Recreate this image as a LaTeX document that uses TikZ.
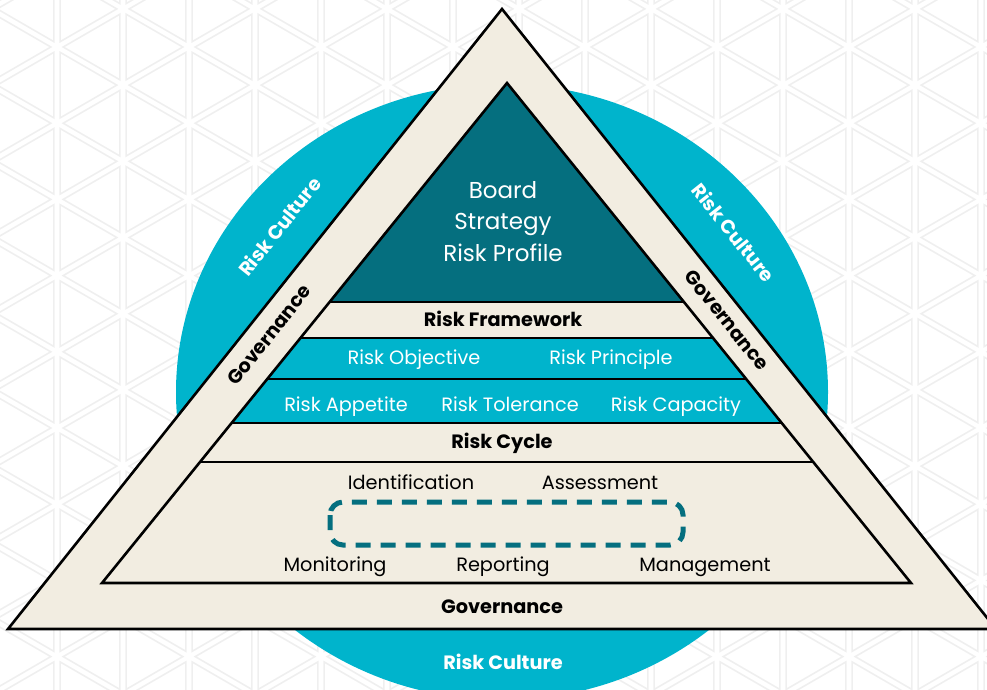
\documentclass[tikz,border=0pt]{standalone}
\usepackage{fontspec}
\setmainfont{Poppins}
\usetikzlibrary{calc}
\definecolor{beige}{HTML}{F2EDE1}
\definecolor{culture}{HTML}{00B4CC}
\definecolor{boardteal}{HTML}{056F7F}
\definecolor{lattice}{HTML}{EFEFEF}

\begin{document}
\begin{tikzpicture}[x=1pt,y=-1pt,
	  tile/.style={draw=lattice, line width=1.6pt},
	  band/.style={draw=black, line width=2.6pt},
	  lbl/.style={inner sep=0pt, text height=13.5pt, text depth=0pt,
	    font=\fontsize{19.3}{22}\selectfont},
	  white lbl/.style={lbl, text=white},
	  bold lbl/.style={lbl, font=\fontsize{19.3}{22}\selectfont\bfseries},
	  culture lbl/.style={bold lbl, text=white},
	  board lbl/.style={white lbl, text height=16pt, font=\fontsize{23}{26}\selectfont},
	  dashloop/.style={draw=boardteal, line width=5pt,
	    dash pattern=on 15pt off 10pt, rounded corners=13pt}]
	  \useasboundingbox (0,0) rectangle (987,689);
	  \clip (0,0) rectangle (987,689);
	  % background lattice
	  \foreach \k in {-1,...,15} {
	    \foreach \m in {-1,...,9} {
	      \pgfmathsetmacro{\xa}{57+66*\k}
	      \pgfmathsetmacro{\ya}{47+76.2*\m-38.1*mod(abs(\k),2)}
	      \pgfmathsetmacro{\yb}{47+76.2*\m-38.1*mod(abs(\k+1),2)}
	      \draw[tile] (\xa+22,\ya+38.1) ++(-18.9,-32.8) -- ++(0,65.6) -- ++(56.7,-32.8) -- cycle;
	      \draw[tile] (\xa+44,\yb+38.1) ++(18.9,-32.8) -- ++(0,65.6) -- ++(-56.7,-32.8) -- cycle;
	    }
	  }
	  % risk culture
	  \fill[culture] (502,392) ellipse [x radius=326pt, y radius=308pt];
	  % governance triangle
	  \coordinate (top) at (502,9);
	  \coordinate (left) at (8,629);
	  \coordinate (right) at (996,629);
	  \filldraw[band, fill=beige] (top) -- (left) -- (right) -- cycle;
	  % inner pyramid
	  \coordinate (apex) at (507,83);
	  \coordinate (bl) at (102,583);
	  \coordinate (br) at (911,583);
	  \foreach \t [count=\i] in {0.438,0.51,0.592,0.68,0.758} {
	    \coordinate (l\i) at ($(apex)!\t!(bl)$);
	    \coordinate (r\i) at ($(apex)!\t!(br)$);
	  }
	  \fill[boardteal] (apex) -- (l1) -- (r1) -- cycle;
	  \fill[culture] (l2) -- (l4) -- (r4) -- (r2) -- cycle;
	  \draw[band] (apex) -- (bl) -- (br) -- cycle;
	  \foreach \i in {1,...,5}
	    \draw[band] (l\i) -- (r\i);
	  \draw[dashloop] (330,502) rectangle (683,545);
	  % labels
	  \node[board lbl] (board) at (503,190) {Board};
	  \node[board lbl] (strategy) at (503,221) {Strategy};
	  \node[board lbl] (profile) at (503,253) {Risk Profile};
	  \node[bold lbl] (framework) at (503,320) {Risk Framework};
	  \node[white lbl] (objective) at (414,358) {Risk Objective};
	  \node[white lbl] (principle) at (611,358) {Risk Principle};
	  \node[white lbl] (appetite) at (346,405) {Risk Appetite};
	  \node[white lbl] (tolerance) at (510,405) {Risk Tolerance};
	  \node[white lbl] (capacity) at (676,405) {Risk Capacity};
	  \node[bold lbl] (cycle) at (502,442) {Risk Cycle};
	  \node[lbl] (ident) at (411,483) {Identification};
	  \node[lbl] (assess) at (600,483) {Assessment};
	  \node[lbl] (monitor) at (335,565) {Monitoring};
	  \node[lbl] (report) at (503,565) {Reporting};
	  \node[lbl] (manage) at (705,565) {Management};
	  \node[bold lbl] (gov bottom) at (502,607) {Governance};
	  \node[bold lbl, rotate=51.4] (gov left) at (269,335) {Governance};
	  \node[bold lbl, rotate=-51.4] (gov right) at (727,320) {Governance};
	  \node[culture lbl] (culture bottom) at (503,663) {Risk Culture};
	  \node[culture lbl, rotate=51.4] (culture left) at (280,227) {Risk Culture};
	  \node[culture lbl, rotate=-51.4] (culture right) at (733,233) {Risk Culture};
\end{tikzpicture}
\end{document}
